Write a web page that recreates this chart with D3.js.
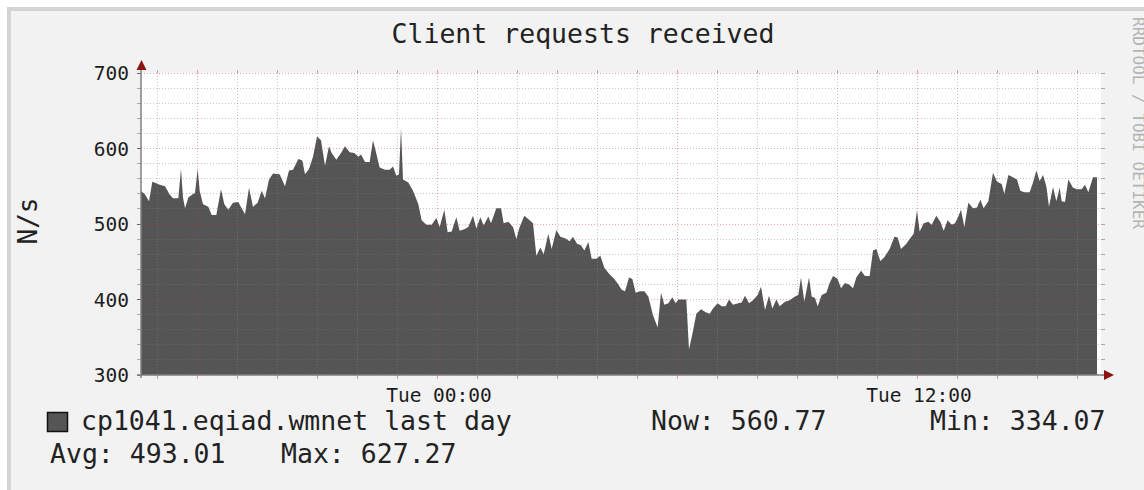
<!DOCTYPE html>
<html>
<head>
<meta charset="utf-8">
<script src="https://cdn.jsdelivr.net/npm/d3@7"></script>
<style>
  body { margin: 0; background: #fff; }
  text { font-family: "DejaVu Sans Mono", monospace; }
</style>
</head>
<body>
<svg id="chart"></svg>
<script>
const width = 1144;
const height = 490;

// minutes relative to Tue 00:00, and requests per second
const offsetMin = [
  -444, -438, -432, -427, -421, -416, -408, -401, -396, -388, -384, -381, -378, -373, -367, -363, -359, -356,
  -351, -343, -338, -331, -324, -319, -313, -306, -298, -293, -288, -282, -276, -269, -263, -258, -252, -246,
  -236, -228, -222, -216, -208, -202, -198, -192, -186, -180, -174, -168, -162, -158, -151, -144, -138, -131,
  -124, -118, -114, -108, -101, -96, -91, -86, -78, -71, -66, -61, -57, -54, -51, -43, -36, -28, -23, -16, -8,
  -1, 4, 11, 16, 22, 29, 34, 41, 47, 54, 59, 65, 70, 77, 81, 89, 96, 100, 107, 114, 119, 124, 131, 139, 144,
  149, 155, 160, 167, 172, 179, 185, 192, 199, 204, 210, 216, 221, 227, 232, 239, 245, 251, 259, 266, 272,
  277, 282, 288, 293, 298, 304, 311, 317, 324, 331, 336, 341, 347, 353, 358, 362, 369, 374, 378, 383, 389,
  396, 403, 409, 414, 421, 427, 433, 438, 444, 452, 457, 462, 468, 474, 481, 486, 492, 498, 503, 509, 514,
  522, 529, 537, 542, 546, 551, 558, 562, 567, 571, 577, 584, 589, 594, 601, 606, 612, 618, 624, 629, 636,
  642, 649, 654, 659, 665, 671, 679, 686, 691, 696, 704, 709, 715, 720, 724, 730, 737, 742, 749, 755, 760,
  766, 772, 777, 781, 786, 791, 797, 804, 810, 815, 820, 827, 834, 840, 847, 851, 857, 864, 870, 875, 881,
  889, 894, 899, 904, 909, 914, 918, 924, 929, 934, 937, 942, 947, 954, 960, 967, 972, 977, 984, 990
];
const requests = [
  544, 539, 530, 556, 554, 552, 550, 539, 534, 534, 573, 535, 521, 535, 539, 541, 573, 544,
  526, 523, 512, 512, 546, 526, 519, 528, 529, 521, 513, 548, 523, 528, 544, 534, 559, 567,
  566, 550, 571, 572, 586, 584, 566, 573, 589, 616, 611, 577, 603, 594, 585, 594, 603, 595,
  594, 589, 592, 582, 582, 611, 593, 575, 572, 572, 576, 564, 566, 627, 559, 555, 544, 526, 505, 499, 499,
  508, 496, 519, 489, 490, 509, 491, 493, 496, 511, 494, 509, 498, 510, 501, 521, 521, 501, 503, 496, 480, 496, 511, 505, 501,
  458, 469, 460, 487, 467, 492, 483, 481, 477, 483, 474, 472, 465, 476, 454, 454, 458, 442, 433, 427, 420,
  413, 411, 429, 427, 409, 411, 411, 404, 379, 363, 409, 393, 395, 403, 395, 400, 400, 400, 334, 354, 381,
  387, 383, 381, 388, 395, 391, 391, 400, 393, 395, 396, 405, 395, 399, 406, 417, 386, 405, 388, 400, 391,
  397, 399, 404, 406, 429, 397, 429, 404, 402, 391, 406, 409, 422, 431, 427, 415, 422, 420, 415, 429, 438,
  431, 431, 465, 467, 451, 456, 467, 483, 482, 467, 474, 480, 487, 518, 490, 501, 503, 499, 511, 503, 491,
  505, 499, 501, 508, 519, 496, 528, 521, 522, 532, 521, 530, 568, 556, 553, 540, 565, 562, 559, 544, 542,
  542, 555, 571, 557, 565, 550, 523, 549, 530, 548, 530, 529, 559, 548, 546, 546, 552, 542, 562, 562
];

const yTicks = [300, 400, 500, 600, 700];
const title = "Client requests received";
const unitLabel = "N/s";
const seriesName = "cp1041.eqiad.wmnet last day";
const stats = [["Now", 560.77], ["Min", 334.07], ["Avg", 493.01], ["Max", 627.27]];
const watermark = "RRDTOOL / TOBI OETIKER";

const tueMidnight = new Date(2013, 0, 15, 0, 0);
const data = offsetMin.map((m, i) => ({ t: d3.timeMinute.offset(tueMidnight, m), v: requests[i] }));

const svg = d3.select("#chart").attr("width", width).attr("height", height);

// frame
svg.append("rect").attr("x", 7).attr("y", 7).attr("width", width).attr("height", height)
  .attr("fill", "#d4d4d4");
svg.append("rect").attr("x", 11).attr("y", 11).attr("width", width).attr("height", height)
  .attr("fill", "#f2f2f2");

const x = d3.scaleTime()
  .domain([d3.timeMinute.offset(tueMidnight, -444), d3.timeMinute.offset(tueMidnight, 996)])
  .range([141, 1101]);
const y = d3.scaleLinear().domain([300, 700]).range([375, 73]);

const [x0, x1] = x.range();
const [yb, yt] = y.range();

svg.append("rect").attr("x", x0).attr("y", yt).attr("width", x1 - x0).attr("height", yb - yt)
  .attr("fill", "#ffffff");

// area
const area = d3.area().x((d) => x(d.t)).y0(y(300)).y1((d) => y(d.v));
svg.append("path").datum(data).attr("d", area).attr("fill", "#555555");

// grid
const minorColor = "rgba(133,133,133,0.45)";
const majorColor = "rgba(215,45,45,0.42)";
const hours = d3.timeHour.range(x.domain()[0], x.domain()[1]);
const yMinor = d3.range(300, 701, 20);

const grid = svg.append("g").attr("shape-rendering", "crispEdges");

grid.selectAll(".hgrid")
  .data(yMinor)
  .enter()
  .append("line")
  .attr("x1", x0).attr("x2", x1)
  .attr("y1", (d) => y(d)).attr("y2", (d) => y(d))
  .attr("stroke", (d) => (d % 100 === 0 ? majorColor : minorColor))
  .attr("stroke-dasharray", "1,2");

grid.selectAll(".vgrid")
  .data(hours)
  .enter()
  .append("line")
  .attr("x1", (d) => x(d)).attr("x2", (d) => x(d))
  .attr("y1", yt).attr("y2", yb)
  .attr("stroke", (d) => (d.getHours() % 6 === 0 ? majorColor : minorColor))
  .attr("stroke-dasharray", "1,2");

// little solid ticks at the grid ends
grid.selectAll(".htick")
  .data(yMinor.flatMap((d) => [[x0 - 4, x0, d], [x1, x1 + 4, d]]))
  .enter()
  .append("line")
  .attr("x1", (d) => d[0]).attr("x2", (d) => d[1])
  .attr("y1", (d) => y(d[2])).attr("y2", (d) => y(d[2]))
  .attr("stroke", (d) => (d[2] % 100 === 0 && d[0] < x0 ? "#666" : "#aaa"));

grid.selectAll(".vtick")
  .data(hours.flatMap((d) => [[yb, yb + 4, d], [yt - 3, yt, d]]))
  .enter()
  .append("line")
  .attr("x1", (d) => x(d[2])).attr("x2", (d) => x(d[2]))
  .attr("y1", (d) => d[0]).attr("y2", (d) => d[1])
  .attr("stroke", (d) => (d[2].getHours() % 6 === 0 ? "#e8a0a0" : "#aaa"));

// axes
svg.append("line").attr("x1", x0).attr("x2", x0).attr("y1", yb + 3).attr("y2", yt - 8)
  .attr("stroke", "#808080").attr("stroke-width", 1.5);
svg.append("line").attr("x1", x0 - 4).attr("x2", x1 + 6).attr("y1", yb).attr("y2", yb)
  .attr("stroke", "#808080").attr("stroke-width", 1.5);
svg.append("path").attr("d", `M${x0 - 4.5},${yt - 3}L${x0 + 0.5},${yt - 13}L${x0 + 5.5},${yt - 3}Z`)
  .attr("fill", "#8e1414");
svg.append("path").attr("d", `M${x1 + 3},${yb - 5}L${x1 + 13},${yb}L${x1 + 3},${yb + 5}Z`)
  .attr("fill", "#8e1414");

// axis labels
svg.selectAll(".ylabel")
  .data(yTicks)
  .enter()
  .append("text")
  .attr("x", 129)
  .attr("y", (d) => y(d))
  .attr("dy", "0.36em")
  .attr("text-anchor", "end")
  .attr("font-size", 19.5)
  .attr("fill", "#1c1c1c")
  .text((d) => d);

const fmt = d3.timeFormat("%a %H:%M");
svg.selectAll(".xlabel")
  .data(hours.filter((d) => d.getHours() % 12 === 0))
  .enter()
  .append("text")
  .attr("x", (d) => x(d) + 2)
  .attr("y", 402)
  .attr("text-anchor", "middle")
  .attr("font-size", 19.5)
  .attr("fill", "#1c1c1c")
  .text((d) => fmt(d));

// title and unit
svg.append("text").attr("x", 583).attr("y", 43).attr("text-anchor", "middle")
  .attr("font-size", 26.5).attr("fill", "#222").text(title);

svg.append("text").attr("transform", "translate(37,221) rotate(-90)")
  .attr("text-anchor", "middle").attr("font-size", 26).attr("fill", "#222").text(unitLabel);

svg.append("text").attr("transform", "translate(1133,17) rotate(90)")
  .attr("font-size", 16).attr("fill", "#b4b4b4").text(watermark);

// legend
svg.append("rect").attr("x", 47.5).attr("y", 412.5).attr("width", 20).attr("height", 19)
  .attr("fill", "#555555").attr("stroke", "#111").attr("stroke-width", 1.5);
svg.append("text").attr("x", 81).attr("y", 430).attr("font-size", 26.5).attr("fill", "#222")
  .text(seriesName);

const statPos = [[651, 430], [930, 430], [50, 463], [281, 463]];
svg.selectAll(".stat")
  .data(stats)
  .enter()
  .append("text")
  .attr("x", (d, i) => statPos[i][0])
  .attr("y", (d, i) => statPos[i][1])
  .attr("font-size", 26.5)
  .attr("fill", "#222")
  .text((d) => `${d[0]}: ${d3.format(".2f")(d[1])}`);
</script>
</body>
</html>
